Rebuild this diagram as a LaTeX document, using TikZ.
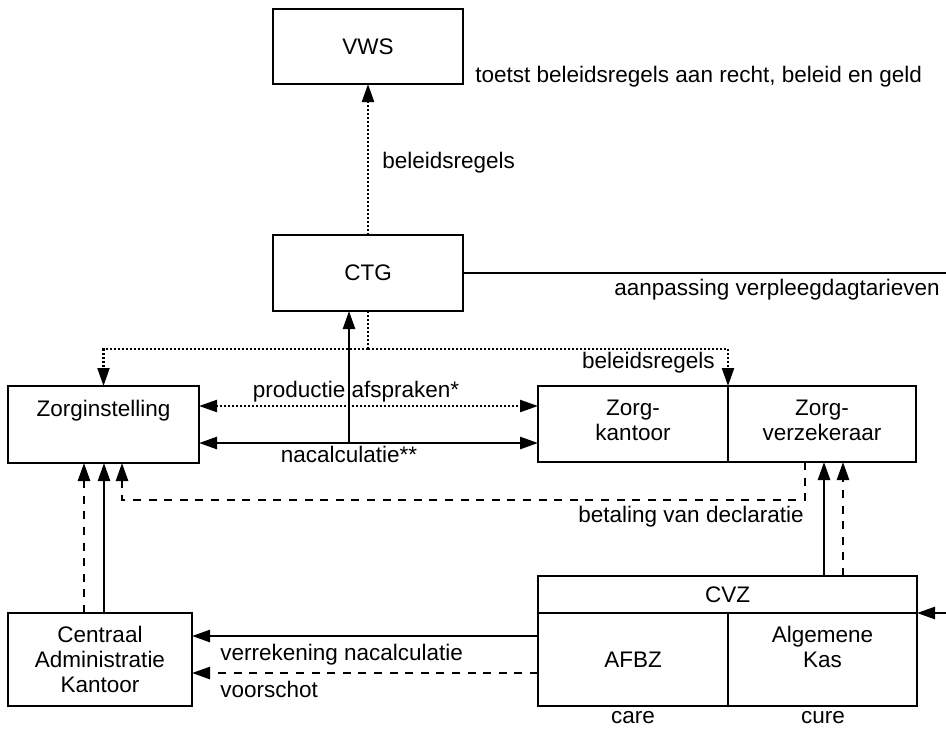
\documentclass[tikz,border=0pt]{standalone}
\usepackage{fontspec}
\setmainfont{Liberation Sans}
\usetikzlibrary{arrows.meta,positioning}

\begin{document}
\begin{tikzpicture}[x=0.5pt,y=-0.5pt,line join=miter,>={Triangle[length=9pt,width=6pt]},
  box/.style={draw,line width=1.35pt,inner sep=0pt,outer sep=0pt,align=center,font=\fontsize{11.25}{12.5}\selectfont},
  twoline/.style={text depth=4pt},
  lbl/.style={inner sep=0pt,text height=8.2pt,text depth=2.3pt,font=\fontsize{11.25}{12.5}\selectfont},
  con/.style={line width=1.3pt},
  dots/.style={line width=1.1pt,dash pattern=on 1pt off 1pt},
  dashes/.style={dash pattern=on 4pt off 3.8pt}]
\path[use as bounding box] (0,0) rectangle (946,729);
\node[box,minimum width=95pt,minimum height=37.5pt] (vws) at (368,46.5) {VWS};
\node[box,minimum width=95pt,minimum height=38pt] (ctg) at (368,273) {CTG};
\node[box,twoline,minimum width=95.5pt,minimum height=38.5pt] (zi) at (103.5,424.5) {Zorginstelling\\\mbox{}};
\node[box,twoline,minimum width=95pt,minimum height=38pt] (zk) at (633,424) {Zorg-\\kantoor};
\node[box,twoline,minimum width=94pt,minimum height=38pt] (zv) at (822,424) {Zorg-\\verzekeraar};
\node[box,minimum width=92pt,minimum height=46.5pt] (cak) at (100,659.5) {Centraal\\Administratie\\Kantoor};
\node[box,minimum width=189.5pt,minimum height=18.5pt] (cvz) at (727.5,594.5) {CVZ};
\node[box,minimum width=95pt,minimum height=46.5pt] (afbz) at (633,659.5) {AFBZ};
\node[box,minimum width=94.5pt,minimum height=46.5pt] (kas) at (822.5,659.5) {Algemene\\Kas\\\mbox{}};
\coordinate (ctgend) at (946,273);
\coordinate (ctgsplit) at (368,349);
\coordinate (nacup) at (349,443);
\coordinate (cvzin) at (946,613);
\draw[con,dots,->] (ctg.north) -- (vws.south);
\draw[con] (ctg.east) -- (ctgend);
\draw[con,dots] (ctg.south) -- (ctgsplit);
\draw[con,dots,->] (ctgsplit) -| (zi.north);
\draw[con,dots,->] (ctgsplit) -| (zk.north east);
\draw[con,dots,<->] (zi.east |- 0,406) -- (zk.west |- 0,406);
\draw[con,<->] (zi.east |- nacup) -- (zk.west |- nacup);
\draw[con,->] (nacup) -- (nacup |- ctg.south);
\draw[con,dashes,->] (805,0 |- zv.south) |- (122,500) -- (122,0 |- zi.south);
\draw[con,->] (824,0 |- cvz.north) -- (824,0 |- zv.south);
\draw[con,dashes,->] (843,0 |- cvz.north) -- (843,0 |- zv.south);
\draw[con,dashes,->] (84,0 |- cak.north) -- (84,0 |- zi.south);
\draw[con,->] (104,0 |- cak.north) -- (104,0 |- zi.south);
\draw[con,->] (cvzin) -- (cvz.south east);
\draw[con,->] (afbz.west |- 0,636) -- (cak.east |- 0,636);
\draw[con,dashes,->] (afbz.west |- 0,673) -- (cak.east |- 0,673);
\node[lbl,anchor=west] (toetst) at (475,77) {toetst beleidsregels aan recht, beleid en geld};
\node[lbl,anchor=west] (belvws) at (382,163) {beleidsregels};
\node[lbl,anchor=west] (aanp) at (614,290) {aanpassing verpleegdagtarieven};
\node[lbl,anchor=east] (belzv) at (715,363) {beleidsregels};
\node[lbl] (prod) at (356,392) {productie afspraken*};
\node[lbl] (nacalc) at (349,457) {nacalculatie**};
\node[lbl,anchor=east] (betal) at (804,517) {betaling van declaratie};
\node[lbl,anchor=west] (verr) at (220,655) {verrekening nacalculatie};
\node[lbl,anchor=west] (voor) at (220,692) {voorschot};
\node[lbl] (care) at (633,718) {care};
\node[lbl] (cure) at (823,718) {cure};
\end{tikzpicture}
\end{document}
